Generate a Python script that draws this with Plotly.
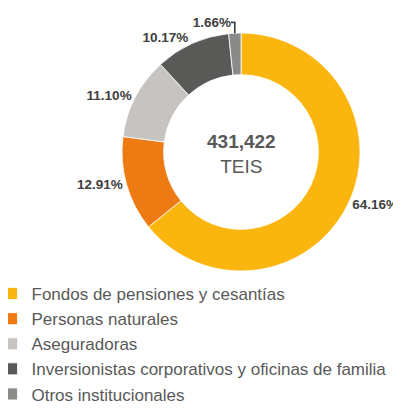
import plotly.graph_objects as go

labels = ["Fondos de pensiones y cesantías", "Personas naturales", "Aseguradoras",
          "Inversionistas corporativos y oficinas de familia", "Otros institucionales"]
values = [64.16, 12.91, 11.10, 10.17, 1.66]
colors = ["#FBB50F", "#EE7A14", "#C7C3C0", "#595957", "#8A8A89"]
center_total = "431,422"
center_unit = "TEIS"

# page has an 8px body margin, so the figure is drawn 8px in from the top-left
OFF = 8
W, H = 401 - OFF, 408 - OFF
cx, cy, r = 241 - OFF, 152 - OFF, 119

fig = go.Figure(go.Pie(
    labels=labels,
    values=values,
    text=[f"{v:.2f}%" for v in values],
    textinfo="text",
    textposition="outside",
    hole=0.65,
    sort=False,
    direction="clockwise",
    rotation=0,
    marker=dict(colors=colors, line=dict(color="white", width=0.8)),
    textfont=dict(family="Liberation Sans, Arial", size=13.5, color="#404040"),
    texttemplate="<b>%{text}</b>",
    domain=dict(x=[(cx - r) / W, (cx + r) / W], y=[1 - (cy + r) / H, 1 - (cy - r) / H]),
    showlegend=True,
))

fig.add_annotation(
    x=cx / W, y=1 - cy / H, xref="paper", yref="paper", yshift=-2,
    text=f"<b>{center_total}</b><br>{center_unit}",
    showarrow=False,
    font=dict(family="Liberation Sans, Arial", size=19, color="#595959"),
)

fig.update_layout(
    width=W, height=H,
    margin=dict(l=0, r=0, t=0, b=0, autoexpand=False),
    paper_bgcolor="white",
    legend=dict(
        x=-0.042, y=1 - 268 / H, xanchor="left", yanchor="top",
        font=dict(family="Liberation Sans, Arial", size=17, color="#595959"),
        itemwidth=30,
    ),
)

fig.write_html("out.html")
